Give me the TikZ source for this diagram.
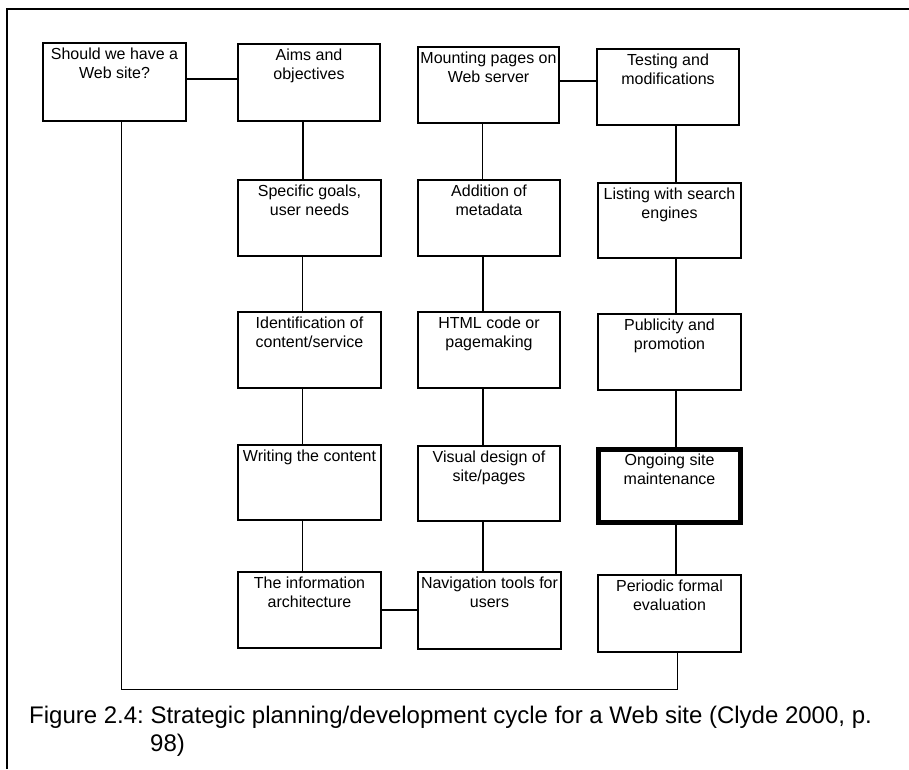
\documentclass[tikz,border=0pt]{standalone}
\usepackage{fontspec}
\setmainfont{Liberation Sans}
\usetikzlibrary{calc}

% one process box: [extra style] name, left, top, right, bottom
\newcommand\flowbox[6][]{%
  \node[stagebox,#1,
        minimum width={#5-#3}, minimum height={#6-#4}]
        (#2) at ({(#3+#5)/2},{(#4+#6)/2}) {};
}
\tikzset{
  stagebox/.style={draw=black, line width=1.3pt, inner sep=0pt, outer sep=0pt, fill=white},
  keybox/.style={line width=5pt},
  % the base anchor of a two-line label sits on its second baseline
  stagetext/.style={anchor=base, align=center, inner sep=0pt,
                    font=\fontsize{16}{19}\selectfont},
  link/.style={draw=black, line width=1.2pt},
  frameline/.style={draw=black, line width=2pt},
  captiontext/.style={anchor=base west, inner sep=0pt,
                      font=\fontsize{24}{28}\selectfont\frenchspacing}
}

\begin{document}
\begin{tikzpicture}[x=1pt, y=-1pt]
  \fill[white] (0,0) rectangle (909,769);
  \useasboundingbox (0,0) rectangle (909,769);

  % page frame (left and top rules)
  \draw[frameline] (7,769) -- (7,9) -- (909,9);

  % boxes, column by column
  \flowbox{should}{43}{43}{186}{121}
  \flowbox{aims}{238}{44}{380}{121}
  \flowbox{spec}{238}{180}{381}{256}
  \flowbox{ident}{238}{312}{381}{388}
  \flowbox{write}{238}{445}{381}{520}
  \flowbox{info}{238}{572}{381}{648}

  \flowbox{mount}{418}{47}{559}{123}
  \flowbox{addn}{418}{180}{560}{256}
  \flowbox{html}{418}{312}{560}{388}
  \flowbox{visual}{418}{446}{560}{521}
  \flowbox{navig}{418}{572}{561}{649}

  \flowbox{test}{597}{49}{739}{125}
  \flowbox{list}{598}{183}{741}{258}
  \flowbox{publ}{598}{314}{741}{390}
  \flowbox[keybox]{ongo}{598.5}{449.5}{740.5}{522.5}
  \flowbox{perio}{598}{575}{741}{652}

  % box labels
  \node[stagetext] (should-t) at ($(should.north)+(0,35)$) {Should we have a\\Web site?};
  \node[stagetext] (aims-t)   at ($(aims.north)+(0,35)$)   {Aims and\\objectives};
  \node[stagetext] (spec-t)   at ($(spec.north)+(0,35)$)   {Specific goals,\\user needs};
  \node[stagetext] (ident-t)  at ($(ident.north)+(0,35)$)  {Identification of\\content/service};
  \node[stagetext] (write-t)  at ($(write.north)+(0,16)$)  {Writing the content};
  \node[stagetext] (info-t)   at ($(info.north)+(0,35)$)   {The information\\architecture};

  \node[stagetext] (mount-t)  at ($(mount.north)+(0,35)$)  {Mounting pages on\\Web server};
  \node[stagetext] (addn-t)   at ($(addn.north)+(0,35)$)   {Addition of\\metadata};
  \node[stagetext] (html-t)   at ($(html.north)+(0,35)$)   {HTML code or\\pagemaking};
  \node[stagetext] (visual-t) at ($(visual.north)+(0,35)$) {Visual design of\\site/pages};
  \node[stagetext] (navig-t)  at ($(navig.north)+(0,35)$)  {Navigation tools for\\users};

  \node[stagetext] (test-t)   at ($(test.north)+(0,35)$)   {Testing and\\modifications};
  \node[stagetext] (list-t)   at ($(list.north)+(0,35)$)   {Listing with search\\engines};
  \node[stagetext] (publ-t)   at ($(publ.north)+(0,35)$)   {Publicity and\\promotion};
  \node[stagetext] (ongo-t)   at ($(ongo.north)+(0,35)$)   {Ongoing site\\maintenance};
  \node[stagetext] (perio-t)  at ($(perio.north)+(0,35)$)  {Periodic formal\\evaluation};

  % horizontal links
  \draw[link] ([yshift=3pt]should.east) -- ([yshift=3pt]should.east -| aims.west);
  \draw[link] ([yshift=4pt]mount.east) -- ([yshift=4pt]mount.east -| test.west);
  \draw[link] (info.east) -- (info.east -| navig.west);

  % vertical links, column two
  \draw[link] ([xshift=-6pt]aims.south)  -- ([xshift=-6pt]aims.south |- spec.north);
  \draw[link] ([xshift=-7pt]spec.south)  -- ([xshift=-7pt]spec.south |- ident.north);
  \draw[link] ([xshift=-7pt]ident.south) -- ([xshift=-7pt]ident.south |- write.north);
  \draw[link] ([xshift=-7pt]write.south) -- ([xshift=-7pt]write.south |- info.north);

  % vertical links, column three
  \draw[link] ([xshift=-6pt]mount.south)  -- ([xshift=-6pt]mount.south |- addn.north);
  \draw[link] ([xshift=-6pt]addn.south)   -- ([xshift=-6pt]addn.south |- html.north);
  \draw[link] ([xshift=-6pt]html.south)   -- ([xshift=-6pt]html.south |- visual.north);
  \draw[link] ([xshift=-6pt]visual.south) -- ([xshift=-6pt]visual.south |- navig.north);

  % vertical links, column four
  \draw[link] ([xshift=8pt]test.south) -- ([xshift=8pt]test.south |- list.north);
  \draw[link] ([xshift=6.5pt]list.south) -- ([xshift=6.5pt]list.south |- publ.north);
  \draw[link] ([xshift=6.5pt]publ.south) -- ([xshift=6.5pt]publ.south |- ongo.north);
  \draw[link] ([xshift=6.5pt]ongo.south) -- ([xshift=6.5pt]ongo.south |- perio.north);

  % return loop from evaluation back to the first question
  \coordinate (loopbase) at (0,689);
  \coordinate (loopend) at ([xshift=8pt]perio.south);
  \coordinate (loopstart) at ([xshift=6.5pt]should.south);
  \draw[link, line width=1pt] (loopstart) -- (loopstart |- loopbase)
        -- (loopend |- loopbase) -- (loopend);

  % figure caption
  \node[captiontext] (cap1) at (29,723)
    {Figure 2.4: Strategic planning/development cycle for a Web site (Clyde 2000, p.};
  \node[captiontext] (cap2) at (150,751) {98)};
\end{tikzpicture}
\end{document}
